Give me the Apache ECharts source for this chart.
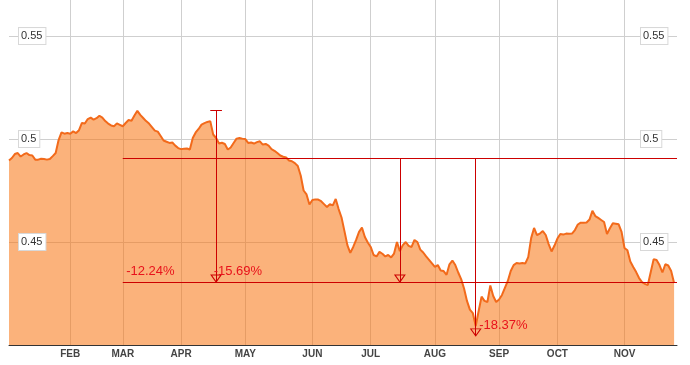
<!DOCTYPE html>
<html><head><meta charset="utf-8">
<script src="https://cdn.jsdelivr.net/npm/echarts@6/dist/echarts.min.js"></script>
<style>html,body{margin:0;padding:0;background:#fff}#c{width:690px;height:365px}</style>
</head><body><div id="c"></div>
<script>
// Month names and number of trading days (points) in each month
const monthNames = ['JAN','FEB','MAR','APR','MAY','JUN','JUL','AUG','SEP','OCT','NOV'];
const monthDays = [21,18,20,22,23,20,22,22,20,23,18];

// Daily closing values
const prices = [
0.4896,0.4908,0.4927,0.4932,0.4915,0.4925,0.4932,0.4922,0.4920,0.4900,
0.4900,0.4904,0.4903,0.4900,0.4903,0.4917,0.4932,0.4995,0.5032,0.5026,
0.5029,0.5026,0.5037,0.5029,0.5043,0.5078,0.5075,0.5097,0.5104,0.5094,
0.5101,0.5113,0.5104,0.5087,0.5075,0.5066,0.5062,0.5076,0.5069,0.5062,
0.5078,0.5092,0.5089,0.5114,0.5137,0.5117,0.5102,0.5087,0.5075,0.5058,
0.5041,0.5036,0.5015,0.4993,0.4987,0.4981,0.4983,0.4968,0.4956,0.4951,
0.4953,0.4954,0.4949,0.5005,0.5032,0.5049,0.5070,0.5077,0.5083,0.5087,
0.5022,0.5005,0.4978,0.4982,0.4976,0.4949,0.4959,0.4981,0.5002,0.5005,
0.5002,0.5000,0.4981,0.4983,0.4978,0.4985,0.4989,0.4973,0.4976,0.4968,
0.4951,0.4943,0.4932,0.4920,0.4914,0.4910,0.4896,0.4892,0.4883,0.4869,
0.4823,0.4750,0.4731,0.4682,0.4704,0.4707,0.4706,0.4698,0.4684,0.4670,
0.4684,0.4678,0.4709,0.4660,0.4619,0.4553,0.4485,0.4447,0.4476,0.4510,
0.4549,0.4570,0.4524,0.4498,0.4476,0.4437,0.4430,0.4452,0.4443,0.4430,
0.4437,0.4425,0.4444,0.4500,0.4456,0.4485,0.4500,0.4481,0.4476,0.4510,
0.4500,0.4463,0.4449,0.4430,0.4413,0.4396,0.4379,0.4388,0.4362,0.4359,
0.4341,0.4392,0.4410,0.4388,0.4352,0.4320,0.4274,0.4214,0.4172,0.4155,
0.4092,0.4165,0.4235,0.4214,0.4209,0.4289,0.4238,0.4209,0.4221,0.4243,
0.4277,0.4311,0.4359,0.4388,0.4398,0.4396,0.4398,0.4396,0.4427,0.4519,
0.4568,0.4534,0.4541,0.4553,0.4534,0.4490,0.4454,0.4483,0.4517,0.4539,
0.4536,0.4541,0.4540,0.4541,0.4558,0.4585,0.4594,0.4594,0.4595,0.4609,
0.4652,0.4626,0.4617,0.4607,0.4597,0.4539,0.4567,0.4591,0.4589,0.4586,
0.4549,0.4471,0.4460,0.4405,0.4379,0.4354,0.4325,0.4305,0.4297,0.4291,
0.4354,0.4417,0.4413,0.4388,0.4352,0.4392,0.4386,0.4359,0.4301
];

// Axis settings (values)
const yMin = 0.40, yMax = 0.5675, yStep = 0.05;

// Annotation levels and texts
const levelHigh = 0.4906;   // reference high line
const levelLow = 0.4306;    // -12.24% line
const peakLevel = 0.5139;   // peak for -15.69%
const troughLevel = 0.4044; // trough for -18.37%
const dropTexts = ['-12.24%', '-15.69%', '-18.37%'];
const dropTextLevels = [0.4357, 0.4357, 0.4095];
const dropTextDays = ['MAR 2', 'APR 12', 'AUG 16'];
const lineStartDay = 'MAR 1', lineEndDay = 'END';
const arrowDays = ['APR 13', 'JUL 11', 'AUG 15'];
const capDays = ['APR 11', 'APR 15'];

// Build category list
const categories = [];
const monthStarts = {};
monthNames.forEach((m, mi) => {
  for (let d = 1; d <= monthDays[mi]; d++) {
    if (d === 1 && mi > 0) monthStarts[categories.length] = m;
    categories.push(m + ' ' + d);
  }
});
categories.push(lineEndDay);

const FONT = 'Liberation Sans, Arial, sans-serif';
const RED_LINE = '#cc0000', RED_TEXT = '#e8121b';
const isMonthStart = (idx) => monthStarts[idx] !== undefined;
const valueLabel = (extra) => Object.assign({
  inside: true, showMinLabel: false, showMaxLabel: false,
  formatter: (v) => String(+v.toFixed(2)),
  color: '#333', fontSize: 11, backgroundColor: '#fff', borderColor: '#d8d8d8', borderWidth: 1,
  padding: [2, 3, 2, 2], lineHeight: 12, verticalAlign: 'middle', fontFamily: FONT
}, extra);

const chart = echarts.init(document.getElementById('c'), null, {renderer: 'canvas'});
chart.setOption({
  animation: false,
  backgroundColor: '#fff',
  textStyle: {fontFamily: FONT},
  grid: {left: 9, right: 13, top: 0, bottom: 20, containLabel: false},
  xAxis: {
    type: 'category',
    data: categories,
    boundaryGap: false,
    axisLine: {show: true, lineStyle: {color: '#333', width: 1}},
    axisTick: {show: false},
    axisLabel: {
      interval: (idx) => isMonthStart(idx),
      formatter: (v, idx) => monthStarts[idx] || '',
      color: '#444', fontSize: 10, fontWeight: 'bold', margin: 4, fontFamily: FONT
    },
    splitLine: {show: true, interval: (idx) => isMonthStart(idx), lineStyle: {color: '#cfcfcf', width: 1}}
  },
  yAxis: [{
    type: 'value', position: 'left', min: yMin, max: yMax, interval: yStep,
    axisLine: {show: false}, axisTick: {show: false}, axisLabel: {show: false},
    splitLine: {show: true, showMinLine: false, showMaxLine: false, lineStyle: {color: '#cfcfcf', width: 1}}
  }, {
    type: 'value', position: 'left', min: yMin, max: yMax, interval: yStep, z: 10,
    axisLine: {show: false}, axisTick: {show: false}, splitLine: {show: false},
    axisLabel: valueLabel({margin: 10})
  }, {
    type: 'value', position: 'right', min: yMin, max: yMax, interval: yStep, z: 10,
    axisLine: {show: false}, axisTick: {show: false}, splitLine: {show: false},
    axisLabel: valueLabel({margin: 36, align: 'left'})
  }],
  series: [{
    type: 'line',
    data: prices,
    yAxisIndex: 0,
    symbol: 'none',
    smooth: false,
    lineStyle: {color: '#f26a1b', width: 2},
    areaStyle: {color: '#f7730f', opacity: 0.55},
    z: 2,
    markLine: {
      silent: true, symbol: 'none', animation: false,
      label: {show: false},
      lineStyle: {color: RED_LINE, width: 1, type: 'solid'},
      emphasis: {disabled: true},
      data: [
        [{coord: [lineStartDay, levelHigh]}, {coord: [lineEndDay, levelHigh]}],
        [{coord: [lineStartDay, levelLow]}, {coord: [lineEndDay, levelLow]}],
        [{coord: [arrowDays[0], peakLevel]}, {coord: [arrowDays[0], levelLow]}],
        [{coord: [capDays[0], peakLevel]}, {coord: [capDays[1], peakLevel]}],
        [{coord: [arrowDays[1], levelHigh]}, {coord: [arrowDays[1], levelLow]}],
        [{coord: [arrowDays[2], levelHigh]}, {coord: [arrowDays[2], troughLevel]}]
      ]
    },
    markPoint: {
      silent: true, animation: false,
      data: [
        {coord: [arrowDays[0], levelLow]},
        {coord: [arrowDays[1], levelLow]},
        {coord: [arrowDays[2], troughLevel]}
      ].map(d => Object.assign(d, {
        symbol: 'triangle', symbolRotate: 180, symbolSize: [10, 7], symbolOffset: [0, -3.5],
        itemStyle: {color: 'rgba(0,0,0,0)', borderColor: RED_LINE, borderWidth: 1},
        label: {show: false}
      })).concat(dropTexts.map((t, i) => ({
        coord: [dropTextDays[i], dropTextLevels[i]],
        symbol: 'circle', symbolSize: 1,
        itemStyle: {color: 'rgba(0,0,0,0)'},
        label: {show: true, position: 'right', distance: 0, formatter: t,
                color: RED_TEXT, fontSize: 13, fontFamily: FONT}
      })))
    }
  }]
});
</script>
</body></html>
